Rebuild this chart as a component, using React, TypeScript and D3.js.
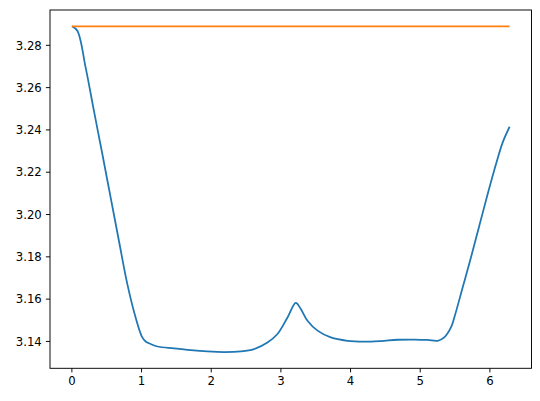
import React from "react";
import * as d3 from "d3";

const xs = [0, 0.078, 0.197, 0.316, 0.437, 0.556, 0.675, 0.796, 0.915, 1.011, 1.059, 1.131, 1.227, 1.466, 1.705, 1.945, 2.184, 2.424, 2.615, 2.807, 2.951, 3.095, 3.214, 3.286, 3.382, 3.526, 3.717, 3.957, 4.195, 4.435, 4.675, 4.914, 5.106, 5.25, 5.345, 5.441, 5.489, 5.609, 5.728, 5.848, 5.968, 6.088, 6.184, 6.283];
const blueY = [3.289, 3.2869, 3.2696, 3.2491, 3.2286, 3.2081, 3.1876, 3.1671, 3.1513, 3.1419, 3.14, 3.1388, 3.1376, 3.1367, 3.1359, 3.1353, 3.135, 3.1353, 3.1364, 3.1395, 3.1435, 3.1513, 3.1582, 3.1553, 3.1498, 3.1451, 3.1419, 3.1403, 3.1399, 3.1402, 3.1408, 3.1409, 3.1407, 3.1403, 3.1419, 3.1466, 3.1513, 3.1655, 3.1797, 3.1947, 3.2097, 3.2239, 3.2341, 3.2415];
const orangeX = [0, 6.283];
const orangeY = [3.289, 3.289];
const xTicks = [0, 1, 2, 3, 4, 5, 6];
const yTicks = [3.14, 3.16, 3.18, 3.2, 3.22, 3.24, 3.26, 3.28];

const L = 50, R = 531.5, T = 10, B = 368.3;

export default function App() {
  const xMin = 0, xMax = 6.283;
  const xm = (xMax - xMin) * 0.05;
  const yMin = d3.min(blueY)!, yMax = d3.max(blueY)!;
  const ym = (yMax - yMin) * 0.05;
  const x = d3.scaleLinear().domain([xMin - xm, xMax + xm]).range([L, R]);
  const y = d3.scaleLinear().domain([yMin - ym, yMax + ym]).range([B, T]);
  const line = d3.line<number>().x((_, i) => x(xs[i])).y((d) => y(d)).curve(d3.curveCatmullRom.alpha(0.5));
  const oline = d3.line<number>().x((_, i) => x(orangeX[i])).y((d) => y(d));
  const font = "DejaVu Sans, sans-serif";
  return (
    <svg width={540} height={401} style={{ position: "absolute", left: 0, top: 0 }}>
      <rect width={540} height={401} fill="#fff" />
      <path d={line(blueY)!} fill="none" stroke="#1f77b4" strokeWidth={1.76} strokeLinejoin="round" />
      <path d={oline(orangeY)!} fill="none" stroke="#ff7f0e" strokeWidth={1.76} />
      <rect x={L} y={T} width={R - L} height={B - T} fill="none" stroke="#000" strokeWidth={0.95} />
      {xTicks.map((t) => (
        <g key={"x" + t}>
          <line x1={x(t)} x2={x(t)} y1={B} y2={B + 4.1} stroke="#000" strokeWidth={0.95} />
          <text x={x(t)} y={B + 8.2} dy="0.76em" textAnchor="middle" fontFamily={font} fontSize={11.7} fill="#000">{t}</text>
        </g>
      ))}
      {yTicks.map((t) => (
        <g key={"y" + t}>
          <line x1={L - 4.1} x2={L} y1={y(t)} y2={y(t)} stroke="#000" strokeWidth={0.95} />
          <text x={L - 8.2} y={y(t)} dy="0.36em" textAnchor="end" fontFamily={font} fontSize={11.7} fill="#000">{t.toFixed(2)}</text>
        </g>
      ))}
    </svg>
  );
}
